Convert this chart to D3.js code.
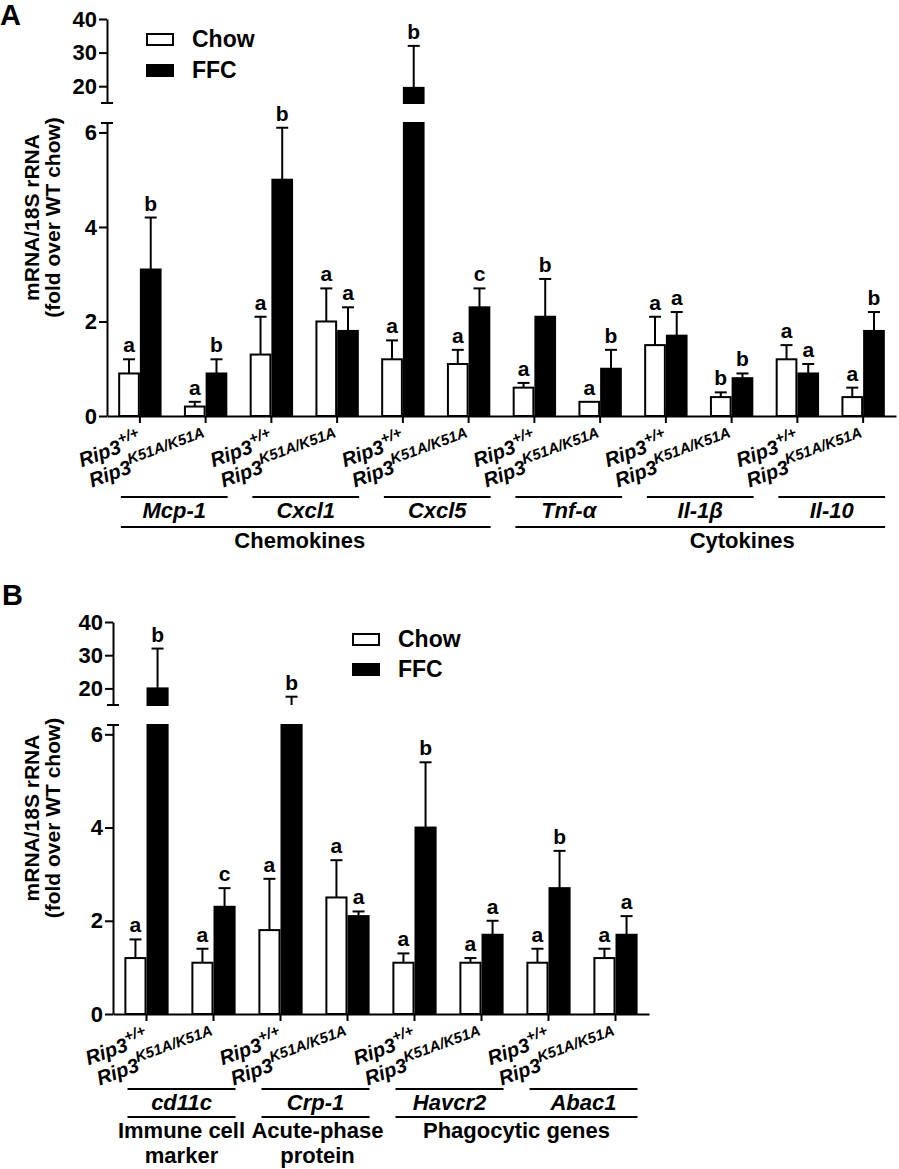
<!DOCTYPE html>
<html>
<head>
<meta charset="utf-8">
<script src="https://cdn.jsdelivr.net/npm/d3@7"></script>
<style>
  body { margin: 0; background: #fff; }
  svg { display: block; }
  text { font-family: Arial, "Liberation Sans", sans-serif; font-weight: bold; fill: #000; }
</style>
</head>
<body>
<svg id="chart" width="899" height="1169"></svg>
<script>
/* global d3 */

// ---- panel A data (two genotypes per gene: Rip3+/+, Rip3K51A/K51A)
const genesA = ["Mcp-1", "Cxcl1", "Cxcl5", "Tnf-α", "Il-1β", "Il-10"];
const chowA     = [0.9, 0.2, 1.3, 2.0, 1.2, 1.1, 0.6, 0.3, 1.5, 0.4, 1.2, 0.4];
const chowErrA  = [1.2, 0.3, 2.1, 2.7, 1.6, 1.4, 0.7, 0.3, 2.1, 0.5, 1.5, 0.6];
const ffcA      = [3.1, 0.9, 5.0, 1.8, 19.5, 2.3, 2.1, 1.0, 1.7, 0.8, 0.9, 1.8];
const ffcErrA   = [4.2, 1.2, 6.1, 2.3, 32, 2.7, 2.9, 1.4, 2.2, 0.9, 1.1, 2.2];
const chowLetA  = ["a", "a", "a", "a", "a", "a", "a", "a", "a", "b", "a", "a"];
const ffcLetA   = ["b", "b", "b", "a", "b", "c", "b", "b", "a", "b", "a", "b"];
const groupLabelsA = [["Chemokines"], ["Cytokines"]];
const groupGenesA  = [[0, 2], [3, 5]];

// ---- panel B data
const genesB = ["cd11c", "Crp-1", "Havcr2", "Abac1"];
const chowB     = [1.2, 1.1, 1.8, 2.5, 1.1, 1.1, 1.1, 1.2];
const chowErrB  = [1.6, 1.4, 2.9, 3.3, 1.3, 1.2, 1.4, 1.4];
const ffcB      = [20, 2.3, 12, 2.1, 4.0, 1.7, 2.7, 1.7];
const ffcErrB   = [32, 2.7, 17.5, 2.2, 5.4, 2.0, 3.5, 2.1];
const chowLetB  = ["a", "a", "a", "a", "a", "a", "a", "a"];
const ffcLetB   = ["b", "c", "b", "a", "b", "a", "b", "a"];
const groupLabelsB = [["Immune cell", "marker"], ["Acute-phase", "protein"], ["Phagocytic genes"]];
const groupGenesB  = [[0, 0], [1, 1], [2, 3]];

const genotypes = ["+/+", "K51A/K51A"];
const seriesNames = ["Chow", "FFC"];
const lowTicks = [0, 2, 4, 6];
const highTicks = [20, 30, 40];
const yTitle = ["mRNA/18S rRNA", "(fold over WT chow)"];

const svg = d3.select("#chart");

function drawPanel(p) {
  const g = svg.append("g");
  const n = p.chow.length;

  const x = d3.scaleBand().domain(d3.range(n)).range([p.left, p.right]);
  const yLow = d3.scaleLinear().domain([0, 6.2]).range([p.bottom, p.lowTop]);
  const yHigh = d3.scaleLinear().domain([15, 40]).range([p.highBottom, p.top]);
  const parts = [yLow, yHigh];
  const bw = x.bandwidth() * 0.33;
  const cx = i => x(i) + x.bandwidth() / 2;

  // pixel pieces of [lo, hi] that fall on each axis segment
  function segs(lo, hi) {
    return parts.map(s => {
      const [d0, d1] = s.domain();
      const a = Math.max(lo, d0), b = Math.min(hi, d1);
      return b > a ? [s(a), s(b)] : null;
    }).filter(Boolean);
  }
  const yAt = v => v <= 6.2 ? yLow(v) : (v >= 15 ? yHigh(v) : null);

  const series = [
    { vals: p.chow, err: p.chowErr, lets: p.chowLet, fill: "#fff", off: -bw / 2 },
    { vals: p.ffc, err: p.ffcErr, lets: p.ffcLet, fill: "#000", off: bw / 2 }
  ];

  series.forEach(s => {
    s.vals.forEach((v, i) => {
      const bx = cx(i) + s.off;
      segs(0, v).forEach(([y0, y1]) => {
        g.append("rect")
          .attr("x", bx - bw / 2 + 1).attr("width", bw - 2)
          .attr("y", y1).attr("height", y0 - y1)
          .attr("fill", s.fill).attr("stroke", "#000").attr("stroke-width", 2);
      });
      // error bar (upper only)
      segs(v, s.err[i]).forEach(([y0, y1]) => {
        g.append("line").attr("x1", bx).attr("x2", bx).attr("y1", y0).attr("y2", y1)
          .attr("stroke", "#000").attr("stroke-width", 2);
      });
      const ye = yAt(s.err[i]);
      if (s.err[i] > v) {
        g.append("line").attr("x1", bx - 6).attr("x2", bx + 6).attr("y1", ye).attr("y2", ye)
          .attr("stroke", "#000").attr("stroke-width", 2);
      }
      g.append("text").attr("x", bx).attr("y", ye - 7)
        .attr("text-anchor", "middle").attr("font-size", 21).text(s.lets[i]);
    });
  });

  // y axes (broken)
  const axStyle = sel => {
    sel.attr("font-family", null).attr("font-size", null);
    sel.selectAll("path.domain").attr("stroke-width", 2);
    sel.selectAll(".tick line").attr("stroke-width", 2);
    sel.selectAll(".tick text").style("font-size", "22px");
  };
  g.append("g").attr("transform", `translate(${p.left},0)`)
    .call(d3.axisLeft(yLow).tickValues(lowTicks).tickFormat(d3.format("d"))
      .tickSize(8).tickSizeOuter(0).tickPadding(2))
    .call(axStyle);
  g.append("g").attr("transform", `translate(${p.left},0)`)
    .call(d3.axisLeft(yHigh).tickValues(highTicks).tickFormat(d3.format("d"))
      .tickSize(8).tickSizeOuter(0).tickPadding(2))
    .call(axStyle);
  [yHigh.range()[0], yLow.range()[1]].forEach(yy => {
    g.append("line").attr("x1", p.left - 6).attr("x2", p.left + 6).attr("y1", yy).attr("y2", yy)
      .attr("stroke", "#000").attr("stroke-width", 2);
  });

  // x axis
  const xa = g.append("g").attr("transform", `translate(0,${p.bottom})`)
    .call(d3.axisBottom(x).tickSize(7).tickSizeOuter(0).tickFormat(""))
    .call(axStyle);
  xa.selectAll(".tick text").remove();
  const lab = xa.selectAll(".tick").append("text")
    .attr("transform", "translate(3,29) rotate(-20)")
    .attr("text-anchor", "end")
    .attr("font-style", "italic")
    .style("font-size", "20px");
  lab.append("tspan").text("Rip3");
  lab.append("tspan").attr("dy", -9).style("font-size", "15px").text(i => genotypes[i % 2]);

  // gene lines + labels
  const geneSpans = p.genes.map((name, k) => [cx(2 * k) - 19, cx(2 * k + 1) + 22]);
  geneSpans.forEach(([x1, x2], k) => {
    g.append("line").attr("x1", x1).attr("x2", x2)
      .attr("y1", p.bottom + p.geneLine).attr("y2", p.bottom + p.geneLine)
      .attr("stroke", "#000").attr("stroke-width", 2);
    g.append("text").attr("x", (x1 + x2) / 2).attr("y", p.bottom + p.geneLine + 21)
      .attr("text-anchor", "middle").attr("font-style", "italic").attr("font-size", 22)
      .text(p.genes[k]);
  });

  // group lines + labels
  p.groupGenes.forEach(([a, b], k) => {
    const x1 = geneSpans[a][0], x2 = geneSpans[b][1];
    const yl = p.bottom + p.groupLine;
    g.append("line").attr("x1", x1).attr("x2", x2).attr("y1", yl).attr("y2", yl)
      .attr("stroke", "#000").attr("stroke-width", 2);
    p.groupLabels[k].forEach((t, j) => {
      g.append("text").attr("x", (x1 + x2) / 2 + p.groupShift[k]).attr("y", yl + 21 + j * 25)
        .attr("text-anchor", "middle").attr("font-size", 22).text(t);
    });
  });

  // y title
  const cy = (p.top + p.bottom) / 2;
  [39, 60].forEach((tx, j) => {
    g.append("text").attr("transform", `translate(${tx},${cy}) rotate(-90)`)
      .attr("text-anchor", "middle").attr("font-size", 21).text(yTitle[j]);
  });

  // legend
  seriesNames.forEach((name, j) => {
    const ly = p.legY + j * p.legGap;
    g.append("rect").attr("x", p.legX + 1).attr("y", ly + 1).attr("width", 26).attr("height", 11)
      .attr("fill", j ? "#000" : "#fff").attr("stroke", "#000").attr("stroke-width", 2);
    g.append("text").attr("x", p.legX + 46).attr("y", ly + 14).attr("font-size", 23).text(name);
  });

  // panel letter
  g.append("text").attr("x", p.letterX).attr("y", p.letterY).attr("font-size", 29).text(p.letter);
}

drawPanel({
  letter: "A", letterX: 0, letterY: 25,
  genes: genesA, chow: chowA, chowErr: chowErrA, ffc: ffcA, ffcErr: ffcErrA,
  chowLet: chowLetA, ffcLet: ffcLetA,
  groupLabels: groupLabelsA, groupGenes: groupGenesA, groupShift: [-6, 42],
  left: 107, right: 896, bottom: 416, lowTop: 123, highBottom: 103, top: 19,
  geneLine: 81, groupLine: 111,
  legX: 146, legY: 33, legGap: 31
});

drawPanel({
  letter: "B", letterX: 2, letterY: 605,
  genes: genesB, chow: chowB, chowErr: chowErrB, ffc: ffcB, ffcErr: ffcErrB,
  chowLet: chowLetB, ffcLet: ffcLetB,
  groupLabels: groupLabelsB, groupGenes: groupGenesB, groupShift: [0, 2, 0],
  left: 113, right: 649, bottom: 1014, lowTop: 725, highBottom: 705, top: 622,
  geneLine: 75, groupLine: 103,
  legX: 352, legY: 633, legGap: 30
});
</script>
</body>
</html>
